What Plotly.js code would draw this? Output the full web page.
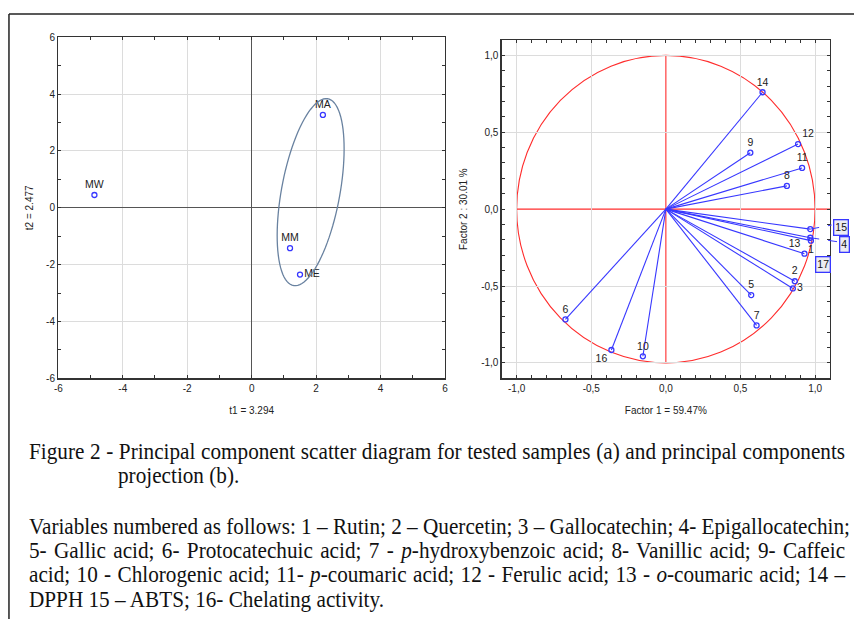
<!DOCTYPE html>
<html><head><meta charset="utf-8">
<script src="https://cdn.plot.ly/plotly-3.0.1.min.js"></script>
<style>
html,body{margin:0;padding:0;background:#fff;}
#wrap{position:relative;width:854px;height:619px;overflow:hidden;background:#fff;}
#chart{position:absolute;left:0;top:0;width:854px;height:619px;}
.cap{position:absolute;font-family:'Liberation Serif','Times New Roman',serif;font-size:23px;line-height:24px;color:#111;white-space:nowrap;transform-origin:0 0;}
.j{text-align:justify;text-align-last:justify;}
</style></head><body>
<div id="wrap"><div id="chart"></div></div>
<script>
// ---- (a) sample scores ----
const sampleNames = ['MW', 'MA', 'MM', 'ME'];
const t1Scores = [-4.88, 2.21, 1.19, 1.50];
const t2Scores = [0.45, 3.27, -1.42, -2.35];
const sampleLabelPos = ['top center', 'top center', 'top center', 'middle right'];
const scoreTickVals = [-6, -4, -2, 0, 2, 4, 6];
const scoreTickText = ['-6', '-4', '-2', '0', '2', '4', '6'];
// confidence ellipse parameters (centre, semi-axes, rotation)
const ellCx = 1.83, ellCy = 0.55, ellA = 3.33, ellB = 0.91, ellAngleDeg = 81;

// ---- (b) variable loadings ----
const varLabels = ['1','2','3','4','5','6','7','8','9','10','11','12','13','14','15','16'];
const factor1 = [0.972, 0.864, 0.851, 0.968, 0.572, -0.673, 0.608, 0.811, 0.566, -0.154, 0.913, 0.886, 0.929, 0.648, 0.968, -0.365];
const factor2 = [-0.205, -0.469, -0.516, -0.186, -0.559, -0.717, -0.756, 0.151, 0.367, -0.957, 0.268, 0.423, -0.290, 0.760, -0.130, -0.916];
const varLabelText = ['1','2','3','','5','6','7','8','9','10','11','12','13','14','','16'];
const varLabelPos = ['bottom center','top center','middle right','top center','top center','top center','top center','top center','top center','top center','top center','top right','top left','top center','top center','bottom left'];
const loadTickVals = [-1, -0.5, 0, 0.5, 1];
const loadTickText = ['-1,0', '-0,5', '0,0', '0,5', '1,0'];
const boxLabels = ['15', '4', '17'];

// ---- caption ----
const captionLines = [
  'Figure 2 - Principal component scatter diagram for tested samples (a) and principal components',
  'projection (b).',
  'Variables numbered as follows: 1 – Rutin; 2 – Quercetin; 3 – Gallocatechin; 4- Epigallocatechin;',
  '5- Gallic acid; 6- Protocatechuic acid; 7 - <i>p</i>-hydroxybenzoic acid; 8- Vanillic acid; 9- Caffeic',
  'acid; 10 - Chlorogenic acid; 11- <i>p</i>-coumaric acid; 12 - Ferulic acid; 13 - <i>o</i>-coumaric acid; 14 –',
  'DPPH 15 – ABTS; 16- Chelating activity.'
];

const BLUE = 'rgb(55,55,255)';
const RED = 'rgb(255,45,45)';
const AX = '#333';

// ellipse outline path in data coords
function ellipsePath() {
  const th = ellAngleDeg * Math.PI / 180;
  let d = '';
  for (let i = 0; i <= 96; i++) {
    const t = 2 * Math.PI * i / 96;
    const x = ellCx + ellA * Math.cos(th) * Math.cos(t) - ellB * Math.sin(th) * Math.sin(t);
    const y = ellCy + ellA * Math.sin(th) * Math.cos(t) + ellB * Math.cos(th) * Math.sin(t);
    d += (i === 0 ? 'M' : 'L') + x.toFixed(4) + ',' + y.toFixed(4);
  }
  return d + 'Z';
}

// spokes from origin to each loading
const spokeX = [], spokeY = [];
factor1.forEach((v, i) => { spokeX.push(0, v, null); spokeY.push(0, factor2[i], null); });

const traces = [
  { type: 'scatter', mode: 'markers+text', x: t1Scores, y: t2Scores, text: sampleNames,
    textposition: sampleLabelPos, textfont: { family: 'Liberation Sans, Arial', size: 10.5, color: '#222' },
    marker: { symbol: 'circle-open', size: 5, color: BLUE, line: { width: 1.3, color: BLUE } },
    xaxis: 'x', yaxis: 'y', hoverinfo: 'skip', cliponaxis: false },
  { type: 'scatter', mode: 'lines', x: spokeX, y: spokeY, line: { color: BLUE, width: 1.1 },
    xaxis: 'x2', yaxis: 'y2', hoverinfo: 'skip' },
  { type: 'scatter', mode: 'markers+text', x: factor1, y: factor2, text: varLabelText,
    textposition: varLabelPos, textfont: { family: 'Liberation Sans, Arial', size: 10.5, color: '#222' },
    marker: { symbol: 'circle-open', size: 5, color: BLUE, line: { width: 1.3, color: BLUE } },
    xaxis: 'x2', yaxis: 'y2', hoverinfo: 'skip', cliponaxis: false }
];

function axisBase() {
  return {
    ticks: 'inside', ticklen: 3, tickcolor: AX, tickwidth: 1,
    showline: true, linecolor: AX, linewidth: 1.3, mirror: 'allticks',
    showgrid: true, gridcolor: '#dcdcdc', gridwidth: 1,
    tickfont: { family: 'Liberation Sans, Arial', size: 10, color: '#222' },
    fixedrange: true, tickmode: 'array'
  };
}
const titleFont = { family: 'Liberation Sans, Arial', size: 10, color: '#222' };

const xa = Object.assign(axisBase(), {
  domain: [0.0683, 0.5211], range: [-6, 6], anchor: 'y',
  tickvals: scoreTickVals, ticktext: scoreTickText,
  minor: { tickmode: 'linear', tick0: 0, dtick: 1, ticks: 'inside', ticklen: 3, tickcolor: AX, showgrid: false },
  zeroline: true, zerolinecolor: '#555', zerolinewidth: 1,
  title: { text: 't1 = 3.294', font: titleFont, standoff: 14 }
});
const ya = Object.assign(axisBase(), {
  domain: [0.3889, 0.9397], range: [-6, 6], anchor: 'x',
  tickvals: scoreTickVals, ticktext: scoreTickText,
  minor: { tickmode: 'linear', tick0: 0, dtick: 1, ticks: 'inside', ticklen: 3, tickcolor: AX, showgrid: false },
  zeroline: true, zerolinecolor: '#555', zerolinewidth: 1,
  title: { text: 't2 = 2.477', font: titleFont, standoff: 10 }
});
const xb = Object.assign(axisBase(), {
  domain: [0.5875, 0.9719], range: [-1.1, 1.1], anchor: 'y2',
  tickvals: loadTickVals, ticktext: loadTickText,
  minor: { tickmode: 'linear', tick0: 0, dtick: 0.1, ticks: 'inside', ticklen: 3, tickcolor: AX, showgrid: false },
  zeroline: true, zerolinecolor: 'rgba(0,0,0,0)',
  title: { text: 'Factor 1 = 59.47%', font: titleFont, standoff: 14 }
});
const yb = Object.assign(axisBase(), {
  domain: [0.3889, 0.9354], range: [-1.1, 1.1], anchor: 'x2',
  tickvals: loadTickVals, ticktext: loadTickText,
  minor: { tickmode: 'linear', tick0: 0, dtick: 0.1, ticks: 'inside', ticklen: 3, tickcolor: AX, showgrid: false },
  zeroline: true, zerolinecolor: 'rgba(0,0,0,0)',
  title: { text: 'Factor 2 : 30.01 %', font: titleFont, standoff: 11 }
});

// helpers to map loading coords to the subplot's domain fraction
const toDomX = v => (v - xb.range[0]) / (xb.range[1] - xb.range[0]);
const toDomY = v => (v - yb.range[0]) / (yb.range[1] - yb.range[0]);

const shapes = [
  // page frame
  { type: 'line', xref: 'paper', yref: 'paper', x0: 0.0105, x1: 1.0, y0: 0.9774, y1: 0.9774, line: { color: '#222', width: 1.5 } },
  { type: 'line', xref: 'paper', yref: 'paper', x0: 0.0105, x1: 0.0105, y0: 0, y1: 0.9774, line: { color: '#222', width: 1.5 } },
  // ellipse
  { type: 'path', xref: 'x', yref: 'y', path: ellipsePath(), line: { color: 'rgb(105,130,160)', width: 1.3 }, layer: 'above' },
  // unit circle + red axes
  { type: 'circle', xref: 'x2', yref: 'y2', x0: -1, x1: 1, y0: -1, y1: 1, line: { color: RED, width: 1.1 }, layer: 'below' },
  { type: 'line', xref: 'x2', yref: 'y2', x0: -1, x1: 1.1, y0: 0, y1: 0, line: { color: RED, width: 1.1 }, layer: 'below' },
  { type: 'line', xref: 'x2', yref: 'y2', x0: 0, x1: 0, y0: -1, y1: 1, line: { color: RED, width: 1.1 }, layer: 'below' },
  // dashed leaders to boxed labels 15 and 4
  { type: 'line', xref: 'x2 domain', yref: 'y2 domain', x0: toDomX(factor1[14]), y0: toDomY(factor2[14]), x1: 1.005, y1: 0.453, line: { color: BLUE, width: 1, dash: 'dash' } },
  { type: 'line', xref: 'x2 domain', yref: 'y2 domain', x0: toDomX(factor1[3]), y0: toDomY(factor2[3]), x1: 1.027, y1: 0.403, line: { color: BLUE, width: 1, dash: 'dash' } }
];

const boxPos = [[0.9846, 0.633], [0.9890, 0.6055], [0.9635, 0.5732]];
const annotations = boxLabels.map((t, i) => ({
  xref: 'paper', yref: 'paper', x: boxPos[i][0], y: boxPos[i][1], xanchor: 'center', yanchor: 'middle',
  text: t, showarrow: false,
  font: { family: 'Liberation Sans, Arial', size: 10.5, color: '#111' },
  bgcolor: '#ececf2', bordercolor: BLUE, borderwidth: 1.3, borderpad: 1
}));

const layout = {
  width: 854, height: 619, margin: { l: 0, r: 0, t: 0, b: 0 },
  paper_bgcolor: 'rgba(0,0,0,0)', plot_bgcolor: '#fff', showlegend: false,
  font: { family: 'Liberation Sans, Arial', size: 10, color: '#222' },
  xaxis: xa, yaxis: ya, xaxis2: xb, yaxis2: yb,
  shapes: shapes, annotations: annotations
};

Plotly.newPlot('chart', traces, layout, { staticPlot: true, displayModeBar: false });

// caption as real HTML text
const wrap = document.getElementById('wrap');
const capTops = [440, 464, 515, 539, 563, 588];
const capLeft = [29, 118, 29, 29, 29, 29];
const capJust = [true, false, true, true, true, false];
// horizontal condensation factor so that the last (unjustified) line has the reference width
const probe = document.createElement('span');
probe.className = 'cap'; probe.style.visibility = 'hidden'; probe.innerHTML = captionLines[5];
wrap.appendChild(probe);
const sx = 355 / probe.getBoundingClientRect().width;
wrap.removeChild(probe);
captionLines.forEach((txt, i) => {
  const d = document.createElement('div');
  d.className = 'cap' + (capJust[i] ? ' j' : '');
  d.style.left = capLeft[i] + 'px'; d.style.top = capTops[i] + 'px';
  d.style.transform = 'scaleX(' + sx.toFixed(4) + ')';
  if (capJust[i]) d.style.width = (816 / sx).toFixed(1) + 'px';
  d.innerHTML = txt;
  wrap.appendChild(d);
});
</script>
</body></html>
